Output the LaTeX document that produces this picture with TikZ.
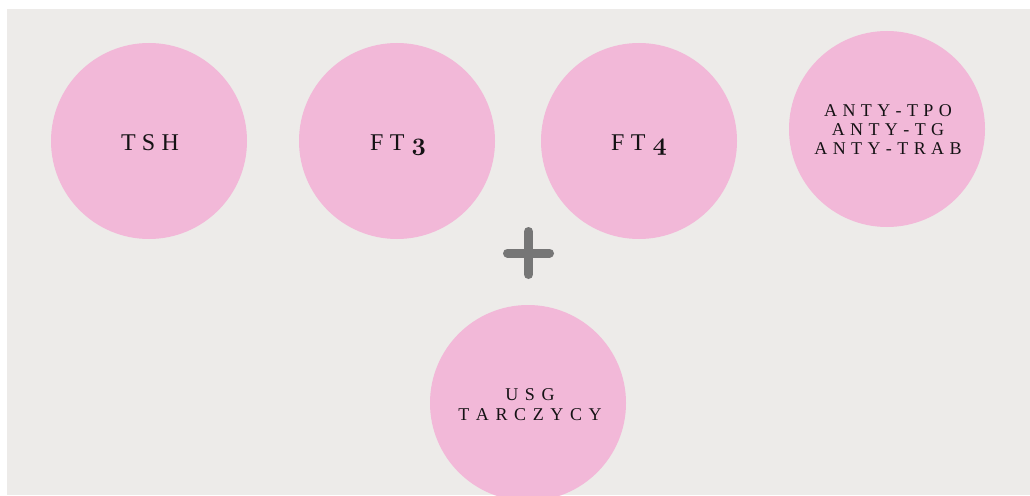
\documentclass[tikz,border=0pt]{standalone}
\usepackage{fontspec}
\setmainfont{Liberation Serif}
\definecolor{bg}{HTML}{EDEBE9}
\definecolor{pinkc}{HTML}{F2B8D8}
\definecolor{plusc}{HTML}{767676}
\definecolor{inkc}{HTML}{141214}
\newcommand\osn[1]{{\fontsize{24}{28}\usefont{OML}{cmm}{b}{it}#1}}
\newcommand\gp{\kern5.4pt\relax}
\newcommand\gq{\kern6.6pt\relax}
\newcommand\Gp{\kern6.3pt\relax}
\begin{document}
\begin{tikzpicture}[x=1pt,y=-1pt,
  disc/.style={circle, fill=pinkc, draw=none, minimum size=196pt, inner sep=0pt},
  bigtxt/.style={font=\fontsize{24}{28}\selectfont, inner sep=0pt, anchor=base, text=inkc},
  smalltxt/.style={font=\fontsize{18}{19}\selectfont, inner sep=0pt, align=center, text=inkc},
  plusbar/.style={draw=plusc, line width=9pt, line cap=round}
]
\useasboundingbox (0,0) rectangle (1030,495);
\clip (0,0) rectangle (1030,495);
\fill[bg] (7,9) rectangle (1030,495);
\node[disc] (c1) at (149,141) {};
\node[disc] (c2) at (397,141) {};
\node[disc] (c3) at (639,141) {};
\node[disc] (c4) at (887,129) {};
\node[disc] (c5) at (528,403) {};
\node[bigtxt] (t1) at (150,150) {T\Gp S\Gp H};
\node[bigtxt] (t2) at (398,150) {F\Gp T\kern7pt\osn{3}};
\node[bigtxt] (t3) at (639,150) {F\Gp T\kern7pt\osn{4}};
\node[smalltxt] (t4) at (888,130) {A\gp N\gp T\gp Y\gp -\gp T\gp P\gp O\\A\gp N\gp T\gp Y\gp -\gp T\gp G\\A\gp N\gp T\gp Y\gp -\gp T\gp R\gp A\gp B};
\node[smalltxt] (t5) at (530,404.5) {U\gq S\gq G\\[1.7pt]T\gq A\gq R\gq C\gq Z\gq Y\gq C\gq Y};
\coordinate (pc) at (528.5,253);
\draw[plusbar] ([xshift=-21pt]pc) -- ([xshift=21pt]pc);
\draw[plusbar] ([yshift=21.5pt]pc) -- ([yshift=-21.5pt]pc);
\end{tikzpicture}
\end{document}
